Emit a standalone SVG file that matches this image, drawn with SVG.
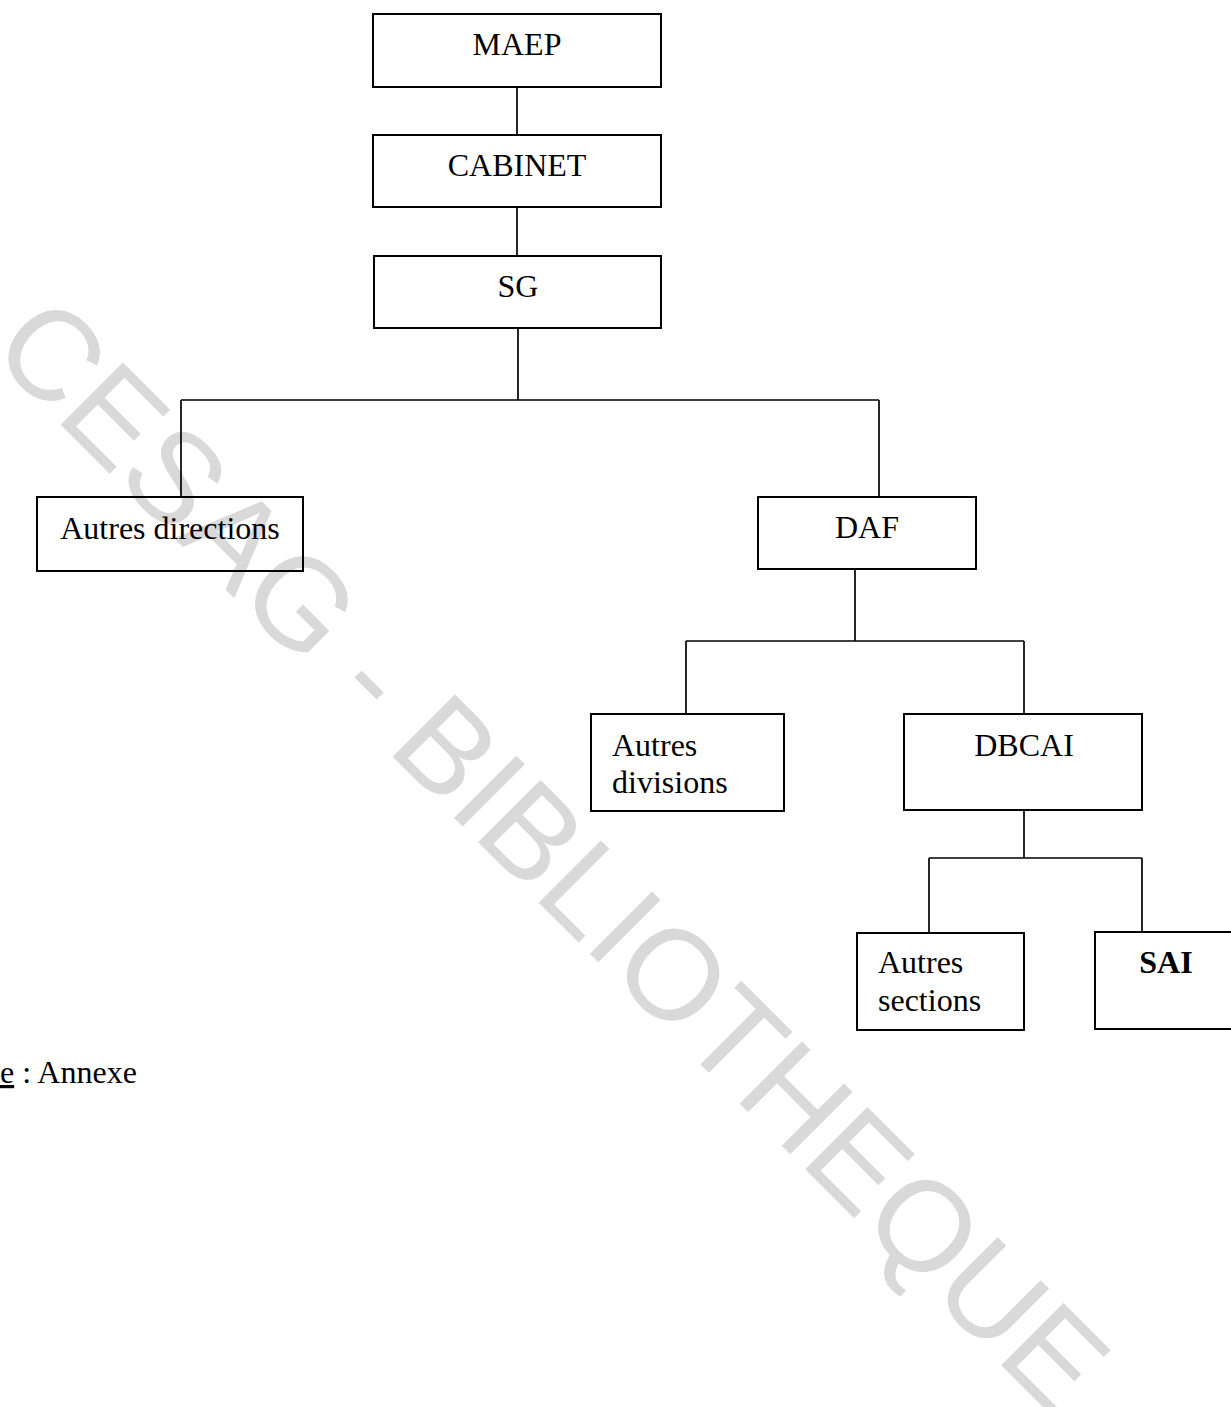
<svg xmlns="http://www.w3.org/2000/svg" width="1231" height="1407" viewBox="0 0 1231 1407">
<style>
.box{fill:none;stroke:#000;stroke-width:2}
.lbl{font-family:"Liberation Serif","Times New Roman",serif;font-size:32px;fill:#000}
.c{text-anchor:middle}
.wm{font-family:"Liberation Sans",Arial,sans-serif;font-size:128px;fill:#d9d9d9}
#connectors path{fill:none;stroke:#000;stroke-width:1.7}
</style>
<rect x="0" y="0" width="1231" height="1407" fill="#fff"/>
<text class="wm" transform="translate(-12,352) rotate(45)">CESAG - BIBLIOTHEQUE</text>
<g id="connectors">
<path d="M517 87V135"/>
<path d="M517 207V256"/>
<path d="M518 328V400"/>
<path d="M181 400H879"/>
<path d="M181 400V497"/>
<path d="M879 400V497"/>
<path d="M855 569V641"/>
<path d="M686 641H1024"/>
<path d="M686 641V714"/>
<path d="M1024 641V714"/>
<path d="M1024 810V858"/>
<path d="M929 858H1142"/>
<path d="M929 858V932"/>
<path d="M1142 858V932"/>
</g>
<g id="maep"><rect class="box" x="373" y="14" width="288" height="73"/><text class="lbl c" x="517" y="55">MAEP</text></g>
<g id="cabinet"><rect class="box" x="373" y="135" width="288" height="72"/><text class="lbl c" x="517" y="176">CABINET</text></g>
<g id="sg"><rect class="box" x="374" y="256" width="287" height="72"/><text class="lbl c" x="518" y="297">SG</text></g>
<g id="autres-directions"><rect class="box" x="37" y="497" width="266" height="74"/><text class="lbl c" x="170" y="539">Autres directions</text></g>
<g id="daf"><rect class="box" x="758" y="497" width="218" height="72"/><text class="lbl c" x="867" y="538">DAF</text></g>
<g id="autres-divisions"><rect class="box" x="591" y="714" width="193" height="97"/><text class="lbl" x="612" y="756">Autres</text><text class="lbl" x="612" y="793">divisions</text></g>
<g id="dbcai"><rect class="box" x="904" y="714" width="238" height="96"/><text class="lbl c" x="1024" y="756">DBCAI</text></g>
<g id="autres-sections"><rect class="box" x="857" y="933" width="167" height="97"/><text class="lbl" x="878" y="973">Autres</text><text class="lbl" x="878" y="1011">sections</text></g>
<g id="sai"><rect class="box" x="1095" y="932" width="150" height="97"/><text class="lbl c" x="1166" y="973" font-weight="bold">SAI</text></g>
<g id="source"><text class="lbl" x="0" y="1083"><tspan text-decoration="underline">e</tspan> : Annexe</text></g>
</svg>
